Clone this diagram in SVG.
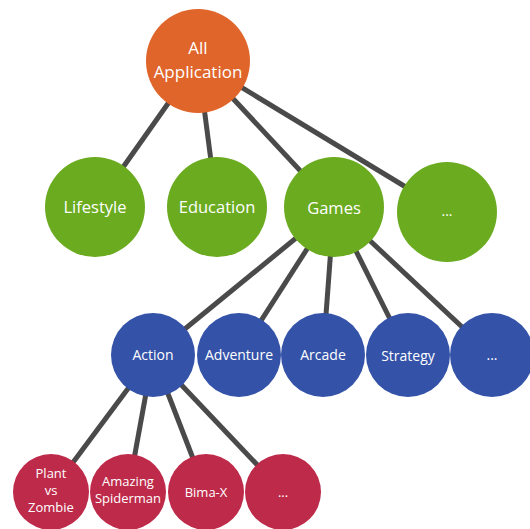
<svg xmlns="http://www.w3.org/2000/svg" width="530" height="529" viewBox="0 0 530 529">
  <style>
    .edge { stroke: #4a4a4a; stroke-width: 5; fill: none; }
    .root { fill: #e0652a; }
    .cat { fill: #6aab1f; }
    .genre { fill: #3352a8; }
    .game { fill: #be2a4a; }
    text { font-family: "Open Sans", "Noto Sans", "Liberation Sans", sans-serif; fill: #ffffff; text-anchor: middle; }
    .t1 { font-size: 17px; }
    .t2 { font-size: 16.5px; }
    .t3 { font-size: 14px; }
    .t4 { font-size: 13px; }
  </style>
  <rect width="530" height="529" fill="#ffffff"/>

  <!-- connectors -->
  <g id="edges">
    <line class="edge" x1="198" y1="61" x2="95" y2="207"/>
    <line class="edge" x1="198" y1="61" x2="217" y2="207"/>
    <line class="edge" x1="198" y1="61" x2="334" y2="207"/>
    <line class="edge" x1="198" y1="61" x2="447" y2="212"/>
    <line class="edge" x1="334" y1="207" x2="153" y2="355"/>
    <line class="edge" x1="334" y1="207" x2="239" y2="355"/>
    <line class="edge" x1="334" y1="207" x2="323" y2="355"/>
    <line class="edge" x1="334" y1="207" x2="408" y2="355"/>
    <line class="edge" x1="334" y1="207" x2="492" y2="355"/>
    <line class="edge" x1="153" y1="355" x2="51" y2="492"/>
    <line class="edge" x1="153" y1="355" x2="128" y2="492"/>
    <line class="edge" x1="153" y1="355" x2="206" y2="492"/>
    <line class="edge" x1="153" y1="355" x2="283" y2="492"/>
  </g>

  <g id="all-application">
    <circle class="root" cx="198" cy="61" r="52"/>
    <text class="t1" x="198" y="54">All</text>
    <text class="t1" x="198" y="78">Application</text>
  </g>

  <g id="lifestyle">
    <circle class="cat" cx="95" cy="207" r="50"/>
    <text class="t2" x="95" y="213">Lifestyle</text>
  </g>
  <g id="education">
    <circle class="cat" cx="217" cy="207" r="50"/>
    <text class="t2" x="217" y="213">Education</text>
  </g>
  <g id="games">
    <circle class="cat" cx="334" cy="207" r="50"/>
    <text class="t2" x="334" y="214">Games</text>
  </g>
  <g id="more-categories">
    <circle class="cat" cx="447" cy="212" r="50"/>
    <text class="t3" x="447" y="216">...</text>
  </g>

  <g id="action">
    <circle class="genre" cx="153" cy="355" r="42"/>
    <text class="t3" x="153" y="360">Action</text>
  </g>
  <g id="adventure">
    <circle class="genre" cx="239" cy="355" r="42"/>
    <text class="t3" x="239" y="360">Adventure</text>
  </g>
  <g id="arcade">
    <circle class="genre" cx="323" cy="355" r="42"/>
    <text class="t3" x="323" y="360">Arcade</text>
  </g>
  <g id="strategy">
    <circle class="genre" cx="408" cy="355" r="42"/>
    <text class="t3" x="408" y="361">Strategy</text>
  </g>
  <g id="more-genres">
    <circle class="genre" cx="492" cy="355" r="42"/>
    <text class="t3" x="492" y="360">...</text>
  </g>

  <g id="plant-vs-zombie">
    <circle class="game" cx="51" cy="492" r="38"/>
    <text class="t4" x="51" y="478">Plant</text>
    <text class="t4" x="51" y="495">vs</text>
    <text class="t4" x="51" y="512">Zombie</text>
  </g>
  <g id="amazing-spiderman">
    <circle class="game" cx="128" cy="492" r="38"/>
    <text class="t4" x="128" y="486">Amazing</text>
    <text class="t4" x="128" y="503">Spiderman</text>
  </g>
  <g id="bima-x">
    <circle class="game" cx="206" cy="492" r="38"/>
    <text class="t4" x="206" y="497">Bima-X</text>
  </g>
  <g id="more-games">
    <circle class="game" cx="283" cy="492" r="38"/>
    <text class="t4" x="283" y="497">...</text>
  </g>
</svg>
